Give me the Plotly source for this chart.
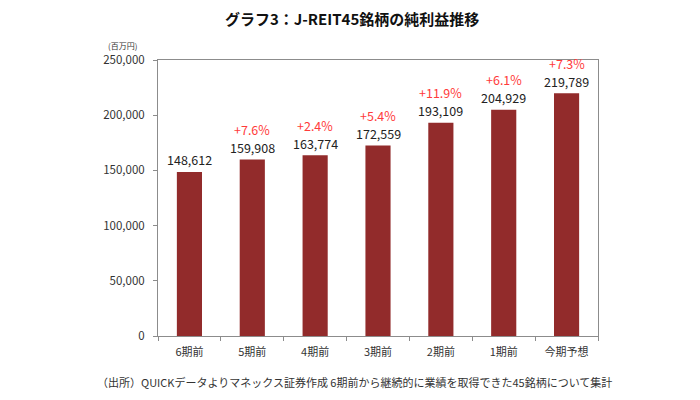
import plotly.graph_objects as go

categories = ["6期前", "5期前", "4期前", "3期前", "2期前", "1期前", "今期予想"]
values = [148612, 159908, 163774, 172559, 193109, 204929, 219789]
changes = ["", "+7.6%", "+2.4%", "+5.4%", "+11.9%", "+6.1%", "+7.3%"]
y_ticks = [0, 50000, 100000, 150000, 200000, 250000]

FONT = "Noto Sans CJK JP"

fig = go.Figure()
fig.add_trace(go.Bar(
    x=categories, y=values,
    marker=dict(color="#922B2B", line=dict(width=0)),
    width=0.4,
))

annotations = []
for c, v, ch in zip(categories, values, changes):
    annotations.append(dict(
        x=c, y=v, xref="x", yref="y", text=f"{v:,}", showarrow=False,
        yshift=12, font=dict(size=12.5, color="#222222", family=FONT),
    ))
    if ch:
        annotations.append(dict(
            x=c, y=v, xref="x", yref="y", text=ch, showarrow=False,
            yshift=30, font=dict(size=12.5, color="#FF3B3B", family=FONT),
        ))

annotations.append(dict(
    xref="paper", yref="paper", x=-0.08, y=1.025, xanchor="center", yanchor="bottom",
    text="(百万円)", showarrow=False, font=dict(size=8, color="#333333", family=FONT)))
annotations.append(dict(
    xref="paper", yref="paper", x=0.447, y=-0.165, xanchor="center", yanchor="middle",
    text="（出所）QUICKデータよりマネックス証券作成 6期前から継続的に業績を取得できた45銘柄について集計",
    showarrow=False, font=dict(size=11, color="#333333", family=FONT)))

fig.update_layout(
    width=700, height=400,
    margin=dict(l=158, r=102, t=60, b=64),
    paper_bgcolor="white", plot_bgcolor="white",
    showlegend=False,
    title=dict(text="<b>グラフ3：J-REIT45銘柄の純利益推移</b>", x=0.503, xanchor="center",
               y=0.95, yanchor="middle",
               font=dict(size=15, color="#111111", family=FONT)),
    annotations=annotations,
)
fig.update_xaxes(
    showline=True, linecolor="#8C8C8C", linewidth=1, mirror=True,
    ticks="outside", ticklen=4, tickcolor="#8C8C8C", tickson="boundaries",
    tickfont=dict(size=11, color="#333333", family=FONT),
    ticklabelstandoff=6,
    showgrid=False,
)
fig.update_yaxes(
    range=[0, 250000], tickvals=y_ticks, ticktext=[f"{t:,}" for t in y_ticks],
    showline=True, linecolor="#8C8C8C", linewidth=1, mirror=True,
    ticks="outside", ticklen=4, tickcolor="#8C8C8C",
    tickfont=dict(size=11.5, color="#333333", family=FONT),
    ticklabelstandoff=6,
    showgrid=False, zeroline=False,
)

fig.write_html("out.html")
